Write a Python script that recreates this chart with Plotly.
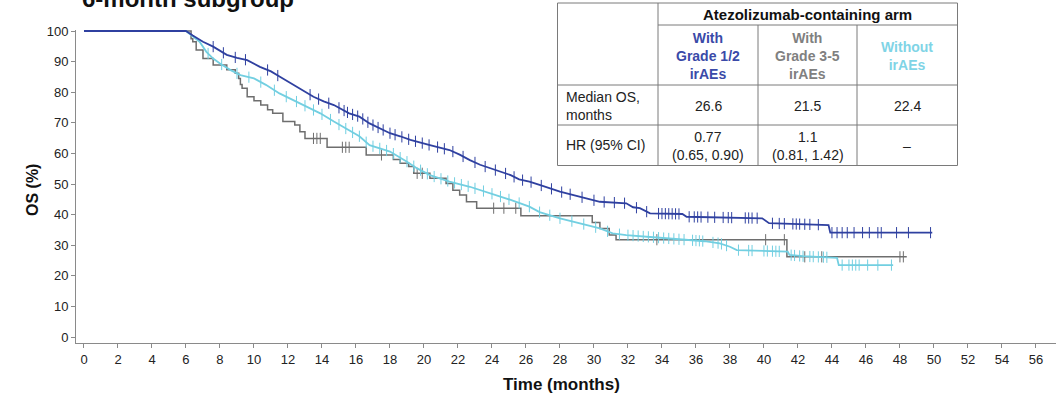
import numpy as np
import plotly.graph_objects as go

# ---------------- data ----------------
# With Grade 1/2 irAEs (dark blue)
g12_t = [0, 6.0, 6.4, 7.0, 7.6, 8.4, 9.0, 9.6, 10.35, 11.0, 11.5, 12.1, 12.7, 13.5, 14.1, 14.7,
         15.6, 16.2, 16.8, 17.4, 18.0, 18.6, 19.2, 20.35, 21.5, 22.1, 22.7, 23.3, 23.9, 24.5,
         25.1, 25.6, 26.2, 26.8, 27.4, 28.0, 29.2, 30.35, 31.9, 32.3, 32.7, 33.3, 35.2, 35.45,
         39.9, 40.3, 43.8, 43.9, 49.9]
g12_s = [100, 100, 98.5, 96.5, 94.9, 92.2, 91.2, 90.5, 88.3, 86.8, 85.1, 83.2, 81.3, 78.5, 77.0, 75.8,
         73.1, 72.0, 69.8, 68.2, 66.6, 65.6, 64.4, 62.7, 61.1, 59.6, 57.8, 56.3, 55.1, 54.0,
         52.9, 51.5, 50.8, 49.7, 48.6, 47.5, 45.8, 44.2, 43.7, 42.4, 42.1, 40.4, 40.2, 39.3,
         38.8, 37.2, 36.6, 34.1, 34.1]
g12_cens = [7.6, 8.2, 8.9, 9.5, 10.8, 11.4, 13.3, 13.8, 14.4, 15.0, 15.3, 15.5, 15.8, 16.1, 16.4, 16.7,
            17.0, 17.3, 17.6, 18.0, 18.3, 18.7, 19.1, 19.5, 19.9, 20.3, 20.8, 21.2, 21.7, 22.3, 23.0,
            23.6, 24.2, 24.8, 25.3, 25.8, 26.3, 26.9, 27.5, 28.1, 28.6, 29.3, 30.0, 30.6, 31.2, 31.8,
            32.5, 33.1, 33.8, 34.0, 34.2, 34.4, 34.6, 34.8, 35.0, 35.6, 35.9, 36.1, 36.3, 36.7, 37.1,
            37.6, 37.9, 38.1, 38.9, 39.1, 39.3, 39.6, 40.5, 40.9, 41.2, 41.7, 41.9, 42.1, 42.4, 42.7,
            43.2, 44.0, 44.3, 44.6, 44.9, 45.3, 45.8, 46.2, 46.7, 46.9, 47.8, 48.5, 49.8]

# With Grade 3-5 irAEs (gray) - step points
g35_t = [0, 6.3, 6.4, 6.6, 7.0, 7.6, 8.4, 8.9, 9.1, 9.2, 9.3, 9.6, 10.0, 10.4, 10.8, 11.1, 11.7,
         12.4, 12.7, 13.0, 14.3, 16.6, 18.2, 18.6, 19.1, 19.4, 20.35, 21.3, 21.7, 22.1, 22.5, 23.1,
         25.7, 29.9, 30.35, 30.9, 31.3, 41.35, 48.4]
g35_s = [100, 97.5, 96.5, 93.8, 91.0, 88.9, 87.3, 86.2, 84.5, 82.5, 81.3, 78.5, 77.2, 75.8, 74.3, 73.1, 70.4,
         69.3, 67.1, 64.9, 62.0, 59.5, 58.0, 56.8, 55.7, 53.5, 51.9, 50.2, 48.0, 46.4, 44.2, 42.1,
         39.6, 37.4, 35.5, 33.3, 31.8, 26.2, 26.2]
g35_cens = [13.5, 13.7, 13.9, 15.2, 15.4, 15.6, 17.5, 19.6, 19.9, 24.1, 24.7, 25.4, 33.7, 40.1, 41.2,
            42.4, 43.4, 48.0, 48.2]

# Without irAEs (light blue)
wo_t = [0, 6.0, 6.8, 7.2, 7.6, 8.0, 8.6, 9.2, 10.0, 10.7, 11.5, 12.3, 13.1, 13.9, 14.7, 15.5, 16.2,
        16.8, 18.0, 19.0, 19.6, 20.35, 21.5, 22.7, 23.9, 25.1, 26.2, 26.8, 28.0, 29.2, 30.35, 31.1,
        31.9, 33.5, 35.1, 36.5, 37.4, 38.0, 38.4, 39.6, 41.4, 41.5, 42.3, 44.3, 44.4, 47.6]
wo_s = [100, 100, 96.5, 93.2, 91.0, 89.4, 87.3, 85.6, 84.5, 82.4, 79.6, 77.5, 75.3, 73.1, 70.4, 67.8, 65.6,
        62.7, 60.6, 57.3, 55.1, 52.9, 50.8, 49.1, 47.0, 44.8, 42.6, 40.8, 38.8, 37.2, 35.5, 33.9,
        33.3, 32.6, 31.9, 31.3, 30.6, 29.5, 28.4, 28.2, 27.9, 26.8, 26.4, 25.9, 23.5, 23.5]
wo_cens = [7.3, 8.1, 9.0, 9.7, 10.4, 11.2, 11.9, 12.5, 13.0, 13.5, 14.0, 14.5, 15.0, 15.4, 15.8, 16.2,
           16.6, 17.0, 17.4, 17.8, 18.2, 18.6, 19.0, 19.4, 19.8, 20.2, 20.6, 21.0, 21.4, 21.8, 22.2,
           22.6, 23.0, 23.5, 24.0, 24.5, 25.0, 25.6, 26.2, 26.8, 27.4, 28.0, 28.7, 29.4, 30.1, 30.8,
           31.5, 32.0, 32.3, 32.6, 32.9, 33.2, 33.5, 33.8, 34.1, 34.4, 34.7, 35.0, 35.3, 35.8, 36.0,
           36.2, 36.4, 37.0, 37.3, 37.5, 37.8, 38.5, 39.1, 39.3, 40.0, 40.2, 40.5, 40.7, 40.9, 41.6,
           41.8, 42.1, 42.3, 42.7, 42.9, 43.2, 43.5, 43.7, 44.6, 45.0, 45.2, 45.4, 45.6, 46.1, 46.7, 47.5]

x_ticks = list(range(0, 57, 2))
y_ticks = list(range(0, 101, 10))

chart_title = "6-month subgroup"
x_title = "Time (months)"
y_title = "OS (%)"
table_header = "Atezolizumab-containing arm"
group_labels = ["With<br>Grade 1/2<br>irAEs", "With<br>Grade 3-5<br>irAEs", "Without<br>irAEs"]
row_labels = ["Median OS,<br>months", "HR (95% CI)"]
median_os = ["26.6", "21.5", "22.4"]
hr_ci = ["0.77<br>(0.65, 0.90)", "1.1<br>(0.81, 1.42)", "–"]

# ---------------- styles ----------------
C_BLUE = "#2f40a0"
C_GRAY = "#6e6e6e"
C_CYAN = "#72cfe1"
C_TXT_BLUE = "#3a4aa8"
C_TXT_GRAY = "#808080"
C_TXT_CYAN = "#7fd4e6"
FONT = "Arial, Liberation Sans, sans-serif"

W, H = 1056, 402
ML, MR, MT, MB = 76, 0, 30, 59


def xp(px):
    return (px - ML) / (W - ML - MR)


def yp(py):
    return (H - MB - py) / (H - MT - MB)


def step_lookup(t, s, q):
    t = np.asarray(t)
    s = np.asarray(s)
    idx = np.searchsorted(t, np.asarray(q), side="right") - 1
    return s[idx]


fig = go.Figure()

series = [
    (g35_t, g35_s, g35_cens, C_GRAY, "hv", 1.5, "With Grade 3-5 irAEs"),
    (wo_t, wo_s, wo_cens, C_CYAN, "linear", 1.8, "Without irAEs"),
    (g12_t, g12_s, g12_cens, C_BLUE, "linear", 1.8, "With Grade 1/2 irAEs"),
]
for t, s, cens, col, shape, lw, name in series:
    fig.add_trace(go.Scatter(x=t, y=s, mode="lines", line=dict(color=col, width=lw, shape=shape),
                             name=name, showlegend=False, hoverinfo="skip"))
    if shape == "hv":
        cy = step_lookup(t, s, cens)
    else:
        cy = np.interp(cens, t, s)
    fig.add_trace(go.Scatter(x=cens, y=cy, mode="markers",
                             marker=dict(symbol="line-ns-open", size=8, color=col,
                                         line=dict(color=col, width=1)),
                             showlegend=False, hoverinfo="skip"))

axis_common = dict(showgrid=False, zeroline=False, showline=True, linecolor="#8a8a8a", linewidth=1,
                   ticks="outside", ticklen=4, tickcolor="#8a8a8a", tickwidth=1, automargin=False,
                   tickfont=dict(family=FONT, size=13, color="#222222"))
fig.update_xaxes(range=[-0.47, 57.18], tickvals=x_ticks, **axis_common)
fig.update_yaxes(range=[-1.96, 100.33], tickvals=y_ticks, **axis_common)

shapes = []
ann = []
line_style = dict(color="#7a7a7a", width=1)
# table
shapes.append(dict(type="rect", xref="paper", yref="paper", x0=xp(557.5), x1=xp(957.5),
                   y0=yp(165.5), y1=yp(3), line=line_style, fillcolor="white", layer="above"))
shapes.append(dict(type="line", xref="paper", yref="paper", x0=xp(658), x1=xp(658),
                   y0=yp(165.5), y1=yp(3), line=line_style))
for vx in (758, 857):
    shapes.append(dict(type="line", xref="paper", yref="paper", x0=xp(vx), x1=xp(vx),
                       y0=yp(165.5), y1=yp(25), line=line_style))
shapes.append(dict(type="line", xref="paper", yref="paper", x0=xp(658), x1=xp(957.5),
                   y0=yp(25), y1=yp(25), line=line_style))
for hy in (85, 125):
    shapes.append(dict(type="line", xref="paper", yref="paper", x0=xp(557.5), x1=xp(957.5),
                       y0=yp(hy), y1=yp(hy), line=line_style))


def add_text(text, x, y, color="#222222", bold=False, size=14, xanchor="center", angle=0):
    ann.append(dict(text=f"<b>{text}</b>" if bold else text, x=xp(x), y=yp(y), xref="paper", yref="paper",
                    showarrow=False, xanchor=xanchor, yanchor="middle", textangle=angle,
                    align="left" if xanchor == "left" else "center",
                    font=dict(family=FONT, size=size, color=color)))


add_text(table_header, 807.5, 14.5, color="#111111", bold=True, size=15)
col_x = [708, 807.5, 907]
col_c = [C_TXT_BLUE, C_TXT_GRAY, C_TXT_CYAN]
for lab, cx, cc in zip(group_labels, col_x, col_c):
    add_text(lab, cx, 56, color=cc, bold=True, size=14)
add_text(row_labels[0], 564, 106, xanchor="left")
add_text(row_labels[1], 564, 145, xanchor="left")
for v, cx in zip(median_os, col_x):
    add_text(v, cx, 106)
for v, cx in zip(hr_ci, col_x):
    add_text(v, cx, 146)

# axis titles
add_text(x_title, 561, 384, color="#111111", bold=True, size=17)
add_text(y_title, 32, 190, color="#111111", bold=True, size=16, angle=-90)

# partially visible title at top (cut off by the top edge, as in the reference)
add_text(chart_title, 80, -2, color="#111111", bold=True, size=24, xanchor="left")

fig.update_layout(width=W, height=H, margin=dict(l=ML, r=MR, t=MT, b=MB),
                  paper_bgcolor="white", plot_bgcolor="white", shapes=shapes, annotations=ann,
                  showlegend=False)

fig.write_html("out.html", config={"displayModeBar": False},
               post_script="document.body.style.margin='0';document.body.style.overflow='hidden';")
